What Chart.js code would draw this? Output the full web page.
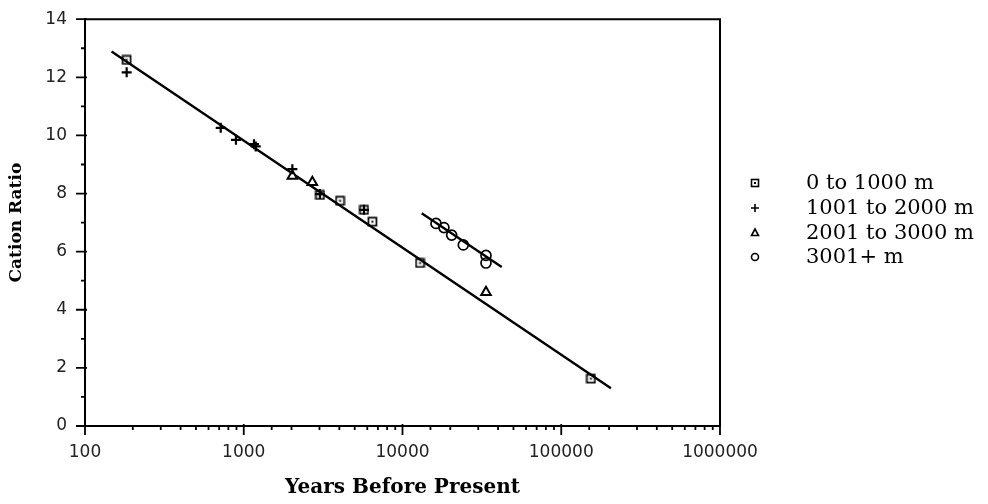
<!DOCTYPE html>
<html>
<head>
<meta charset="utf-8">
<script src="https://cdn.jsdelivr.net/npm/chart.js@4/dist/chart.umd.min.js"></script>
<style>
  html, body { margin: 0; padding: 0; background: #fff; }
  #wrap { width: 988px; height: 504px; }
</style>
</head>
<body>
<div id="wrap"><canvas id="cationChart" width="988" height="504"></canvas></div>
<script>
// Years before present / cation ratio
const squareYears = [183, 3020, 4040, 5720, 6460, 12900, 153800];
const squareRatio = [12.6, 7.95, 7.75, 7.44, 7.03, 5.61, 1.63];

const plusYears = [183, 716, 893, 1160, 1190, 2024, 3020, 5720];
const plusRatio = [12.17, 10.26, 9.85, 9.70, 9.62, 8.84, 7.98, 7.44];

const triangleYears = [2024, 2704, 33570];
const triangleRatio = [8.6, 8.39, 4.6];

const circleYears = [16250, 18240, 20400, 24150, 33570, 33570];
const circleRatio = [6.97, 6.83, 6.57, 6.23, 5.87, 5.61];

// regression lines (end points)
const mainFitYears = [147, 205600];
const mainFitRatio = [12.89, 1.30];
const highFitYears = [13210, 42170];
const highFitRatio = [7.32, 5.47];

const legendLabels = ['0 to 1000 m', '1001 to 2000 m', '2001 to 3000 m', '3001+ m'];
const legendMarkers = ['square', 'plus', 'triangle', 'circle'];

const xTickValues = [100, 1000, 10000, 100000, 1000000];

function toPoints(xs, ys) {
  return xs.map((x, i) => ({ x: x, y: ys[i] }));
}

// square with a dot in the middle, used as point image
function makeSquareMarker() {
  const c = document.createElement('canvas');
  c.width = 11;
  c.height = 11;
  const g = c.getContext('2d');
  g.strokeStyle = '#000';
  g.lineWidth = 1.7;
  g.strokeRect(1.5, 1.5, 8, 8);
  g.fillStyle = '#000';
  g.fillRect(4.5, 4.5, 2, 2);
  return c;
}

const isDecade = v => Math.abs(Math.log10(v) - Math.round(Math.log10(v))) < 1e-9;

// frame, tick marks and legend
const framePlugin = {
  id: 'frame',
  afterDraw(chart) {
    const ctx = chart.ctx;
    const a = chart.chartArea;
    const xs = chart.scales.x;
    const ys = chart.scales.y;
    ctx.save();
    ctx.strokeStyle = '#000';
    ctx.lineWidth = 2;
    ctx.beginPath();
    ctx.moveTo(a.left, a.top);
    ctx.lineTo(a.right, a.top);
    ctx.lineTo(a.right, a.bottom);
    ctx.stroke();

    ctx.lineWidth = 1.8;
    ctx.beginPath();
    xs.ticks.forEach(t => {
      const px = xs.getPixelForValue(t.value);
      const major = isDecade(t.value);
      ctx.moveTo(px, a.bottom - (major ? 2 : 0));
      ctx.lineTo(px, a.bottom + (major ? 9 : 4));
    });
    ys.ticks.forEach(t => {
      const py = ys.getPixelForValue(t.value);
      const major = t.value % 2 === 0;
      ctx.moveTo(a.left - (major ? 9 : 4), py);
      ctx.lineTo(a.left + (major ? 2 : 0), py);
    });
    ctx.stroke();

    // legend
    const mx = 755, tx = 806;
    const rowY = [183, 208, 233, 257];
    ctx.fillStyle = '#000';
    ctx.font = '21px "DejaVu Serif"';
    ctx.textBaseline = 'middle';
    ctx.textAlign = 'left';
    legendLabels.forEach((label, i) => {
      const y = rowY[i];
      ctx.lineWidth = 1.6;
      ctx.beginPath();
      if (legendMarkers[i] === 'square') {
        ctx.strokeRect(mx - 3.5, y - 3.5, 7, 7);
        ctx.fillRect(mx - 1, y - 1, 2, 2);
      } else if (legendMarkers[i] === 'plus') {
        ctx.moveTo(mx - 4, y); ctx.lineTo(mx + 4, y);
        ctx.moveTo(mx, y - 4); ctx.lineTo(mx, y + 4);
        ctx.stroke();
      } else if (legendMarkers[i] === 'triangle') {
        ctx.moveTo(mx, y - 4); ctx.lineTo(mx + 3.5, y + 2.5); ctx.lineTo(mx - 3.5, y + 2.5);
        ctx.closePath();
        ctx.stroke();
      } else {
        ctx.arc(mx, y, 3.5, 0, Math.PI * 2);
        ctx.stroke();
      }
      ctx.fillText(label, tx, y + 1);
    });
    ctx.restore();
  }
};

const ctx = document.getElementById('cationChart').getContext('2d');

new Chart(ctx, {
  type: 'scatter',
  data: {
    datasets: [
      {
        label: legendLabels[0],
        data: toPoints(squareYears, squareRatio),
        pointStyle: makeSquareMarker()
      },
      {
        label: legendLabels[1],
        data: toPoints(plusYears, plusRatio),
        pointStyle: 'cross',
        pointRadius: 5,
        borderWidth: 2.2,
        borderColor: '#000'
      },
      {
        label: legendLabels[2],
        data: toPoints(triangleYears, triangleRatio),
        pointStyle: 'triangle',
        pointRadius: 5.5,
        borderWidth: 2,
        borderColor: '#000',
        backgroundColor: '#fff'
      },
      {
        label: legendLabels[3],
        data: toPoints(circleYears, circleRatio),
        pointStyle: 'circle',
        pointRadius: 5,
        borderWidth: 1.7,
        borderColor: '#000',
        backgroundColor: 'rgba(0,0,0,0)'
      },
      {
        label: 'fit all',
        data: toPoints(mainFitYears, mainFitRatio),
        showLine: true,
        pointRadius: 0,
        borderColor: '#000',
        borderWidth: 2.4
      },
      {
        label: 'fit 3001+',
        data: toPoints(highFitYears, highFitRatio),
        showLine: true,
        pointRadius: 0,
        borderColor: '#000',
        borderWidth: 2.4
      }
    ]
  },
  options: {
    responsive: false,
    animation: false,
    layout: { padding: { top: 14, right: 268, left: 0, bottom: 0 } },
    plugins: {
      legend: { display: false },
      tooltip: { enabled: false }
    },
    scales: {
      x: {
        type: 'logarithmic',
        min: 100,
        max: 1000000,
        afterFit: s => { s.height = 78; },
        afterBuildTicks: s => { s.ticks = s.ticks.filter(t => t.value >= 100); },
        grid: { drawOnChartArea: false, color: 'rgba(0,0,0,0)', tickLength: 9 },
        border: { display: true, color: '#000', width: 2 },
        ticks: {
          autoSkip: false,
          maxRotation: 0,
          padding: 7,
          color: '#222',
          font: { family: 'DejaVu Sans', size: 17 },
          callback: v => (xTickValues.includes(v) ? String(v) : '')
        },
        title: {
          display: true,
          text: 'Years Before Present',
          color: '#000',
          font: { family: 'DejaVu Serif', size: 20, weight: 'bold' },
          padding: { bottom: 4 }
        }
      },
      y: {
        min: 0,
        max: 14,
        afterFit: s => { s.width = 85; },
        grid: { drawOnChartArea: false, color: 'rgba(0,0,0,0)', tickLength: 9 },
        border: { display: true, color: '#000', width: 2 },
        ticks: {
          stepSize: 1,
          autoSkip: false,
          padding: 9,
          color: '#222',
          font: { family: 'DejaVu Sans', size: 17 },
          callback: v => (v % 2 === 0 ? String(v) : '')
        },
        title: {
          display: true,
          text: 'Cation Ratio',
          color: '#000',
          font: { family: 'DejaVu Serif', size: 17, weight: 'bold' },
          padding: { top: 6 }
        }
      }
    }
  },
  plugins: [framePlugin]
});
</script>
</body>
</html>
